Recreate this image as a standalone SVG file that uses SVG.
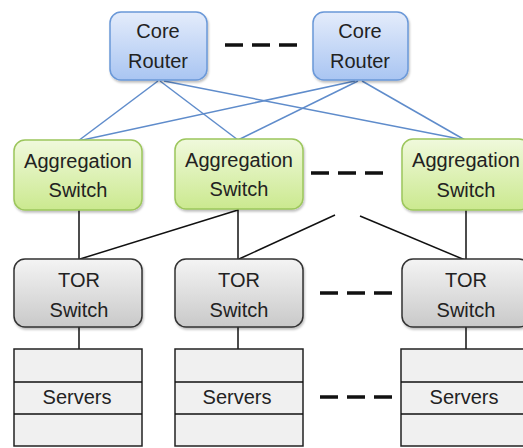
<svg xmlns="http://www.w3.org/2000/svg" width="523" height="448" viewBox="0 0 523 448">
<defs>
<linearGradient id="gBlue" x1="0" y1="0" x2="0" y2="1"><stop offset="0" stop-color="#e4ecfb"/><stop offset="1" stop-color="#a9c5f2"/></linearGradient>
<linearGradient id="gGreen" x1="0" y1="0" x2="0" y2="1"><stop offset="0" stop-color="#f0f9dc"/><stop offset="1" stop-color="#cbe98f"/></linearGradient>
<linearGradient id="gGray" x1="0" y1="0" x2="0" y2="1"><stop offset="0" stop-color="#f4f4f4"/><stop offset="1" stop-color="#c9c9c9"/></linearGradient>
<filter id="sh" x="-10%" y="-10%" width="130%" height="130%"><feDropShadow dx="1" dy="2" stdDeviation="1.2" flood-color="#000" flood-opacity="0.25"/></filter>
</defs>
<style>
text{font-family:"Liberation Sans",Arial,sans-serif;font-size:20px;fill:#222;text-anchor:middle}
.core{fill:url(#gBlue);stroke:#6a98d8;stroke-width:1.5}
.agg{fill:url(#gGreen);stroke:#9cc65c;stroke-width:1.5}
.tor{fill:url(#gGray);stroke:#333;stroke-width:1.5}
.srv{fill:#f0f0f0;stroke:#222;stroke-width:1.5}
.blue{stroke:#5f8ccb;stroke-width:1.5;fill:none}
.blk{stroke:#111;stroke-width:1.5;fill:none}
.dash{stroke:#111;stroke-width:3.5;stroke-dasharray:18 9;fill:none}
</style>
<g id="connectors">
<line class="blue" x1="158" y1="81" x2="78" y2="141"/>
<line class="blue" x1="160" y1="81" x2="238" y2="140"/>
<line class="blue" x1="164" y1="81" x2="465" y2="140"/>
<line class="blue" x1="355" y1="81" x2="78" y2="141"/>
<line class="blue" x1="358" y1="81" x2="238" y2="140"/>
<line class="blue" x1="362" y1="81" x2="465" y2="140"/>
<line class="blk" x1="79" y1="210" x2="79" y2="260"/>
<line class="blk" x1="238" y1="209" x2="238" y2="260"/>
<line class="blk" x1="466" y1="210" x2="466" y2="260"/>
<line class="blk" x1="238" y1="210" x2="80" y2="259"/>
<line class="blk" x1="335" y1="215" x2="239" y2="259"/>
<line class="blk" x1="360" y1="216" x2="465" y2="260"/>
<line class="blk" x1="79" y1="327" x2="79" y2="349"/>
<line class="blk" x1="238" y1="327" x2="238" y2="349"/>
<line class="blk" x1="466" y1="327" x2="466" y2="349"/>
<line class="dash" x1="225" y1="45" x2="298" y2="45"/>
<line class="dash" x1="311" y1="173" x2="384" y2="173"/>
<line class="dash" x1="320" y1="293" x2="392" y2="293"/>
<line class="dash" x1="320" y1="397" x2="392" y2="397"/>
</g>
<g id="core1"><rect class="core" filter="url(#sh)" x="110" y="12" width="97" height="68" rx="11"/><text x="158" y="38">Core</text><text x="158" y="68">Router</text></g>
<g id="core2"><rect class="core" filter="url(#sh)" x="313" y="12" width="95" height="68" rx="11"/><text x="360" y="38">Core</text><text x="360" y="68">Router</text></g>
<g id="agg1"><rect class="agg" filter="url(#sh)" x="14" y="140" width="128" height="70" rx="11"/><text x="78" y="168">Aggregation</text><text x="78" y="197">Switch</text></g>
<g id="agg2"><rect class="agg" filter="url(#sh)" x="175" y="139" width="128" height="70" rx="11"/><text x="239" y="167">Aggregation</text><text x="239" y="196">Switch</text></g>
<g id="agg3"><rect class="agg" filter="url(#sh)" x="402" y="139" width="128" height="71" rx="11"/><text x="466" y="167">Aggregation</text><text x="466" y="197">Switch</text></g>
<g id="tor1"><rect class="tor" filter="url(#sh)" x="14" y="259" width="128" height="68" rx="11"/><text x="79" y="287">TOR</text><text x="79" y="317">Switch</text></g>
<g id="tor2"><rect class="tor" filter="url(#sh)" x="175" y="259" width="128" height="68" rx="11"/><text x="239" y="287">TOR</text><text x="239" y="317">Switch</text></g>
<g id="tor3"><rect class="tor" filter="url(#sh)" x="402" y="259" width="128" height="68" rx="11"/><text x="466" y="287">TOR</text><text x="466" y="317">Switch</text></g>
<g id="srv1"><rect class="srv" x="14" y="349" width="128" height="97"/><line class="blk" x1="14" y1="382" x2="142" y2="382"/><line class="blk" x1="14" y1="414" x2="142" y2="414"/><text x="77" y="404">Servers</text></g>
<g id="srv2"><rect class="srv" x="175" y="349" width="128" height="97"/><line class="blk" x1="175" y1="382" x2="303" y2="382"/><line class="blk" x1="175" y1="414" x2="303" y2="414"/><text x="237" y="404">Servers</text></g>
<g id="srv3"><rect class="srv" x="401" y="349" width="128" height="97"/><line class="blk" x1="401" y1="382" x2="529" y2="382"/><line class="blk" x1="401" y1="414" x2="529" y2="414"/><text x="464" y="404">Servers</text></g>
</svg>
